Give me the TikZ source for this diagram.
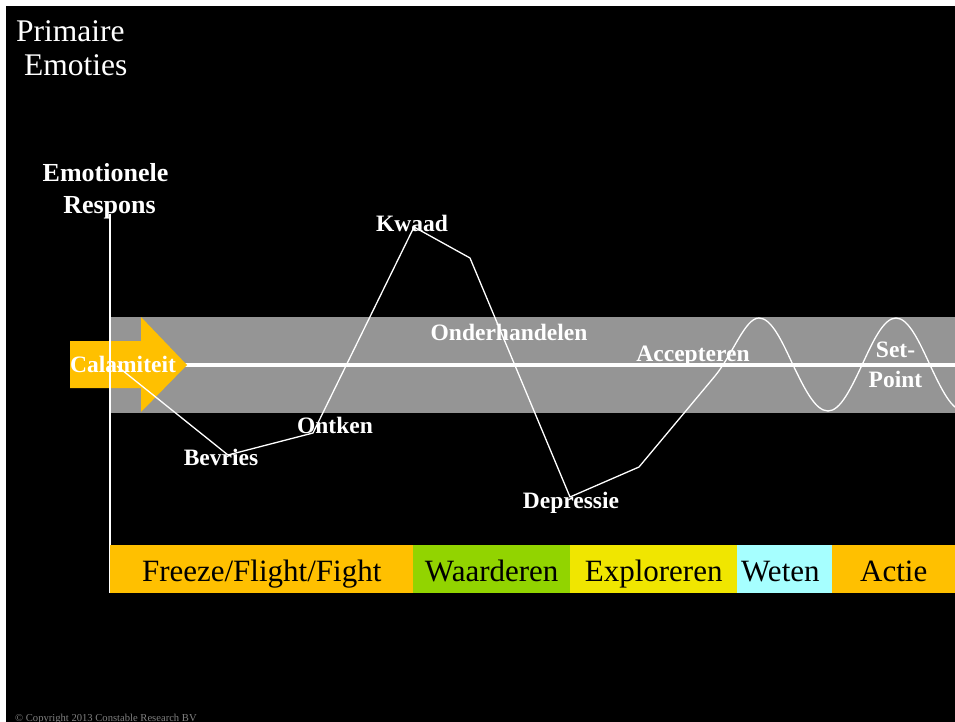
\documentclass[tikz,border=0pt]{standalone}
\usepackage{fontspec}
\setmainfont{Liberation Serif}
\definecolor{orgC}{RGB}{255,192,0}
\definecolor{grnC}{RGB}{146,212,0}
\definecolor{ylwC}{RGB}{240,230,0}
\definecolor{cynC}{RGB}{166,255,255}
\definecolor{bandC}{RGB}{149,149,149}
\definecolor{copyC}{RGB}{128,128,128}
\begin{document}
\begin{tikzpicture}[x=1pt,y=-1pt,
  lbl/.style={text=white,font=\fontsize{23.5}{26}\selectfont\bfseries,inner sep=0pt,anchor=base},
  axlbl/.style={text=white,font=\fontsize{26}{30}\selectfont\bfseries,inner sep=0pt,anchor=base},
  title/.style={text=white,font=\fontsize{31.5}{36}\selectfont,inner sep=0pt,anchor=base west},
  seg/.style={font=\fontsize{31}{36}\selectfont,text=black,inner sep=0pt,anchor=north west,
              text height=36pt,text depth=12pt},
  curve/.style={draw=white,line width=1.3pt,line join=round},
  axis/.style={draw=white,line width=1.2pt}]
\useasboundingbox (0,0) rectangle (955,722);
\fill[white] (0,0) rectangle (955,722);
\fill[black] (6,6) rectangle (955,722);
\begin{scope}
\clip (6,6) rectangle (955,722);
% grey band and set-point line
\fill[bandC] (110,317) rectangle (955,413);
\draw[white,line width=4.5pt] (150,365) -- (960,365);
% calamity arrow
\fill[orgC] (70,341) -- (141,341) -- (141,317) -- (187,365) -- (141,412) -- (141,388) -- (70,388) -- cycle;
% axis
\coordinate (axTop) at (110,214);
\coordinate (axBot) at (110,593);
\draw[axis] (axTop) -- (axBot);
% emotional response curve
\coordinate (p0) at (117,366);
\coordinate (p1) at (228,455);
\coordinate (p2) at (313,433);
\coordinate (p3) at (414,227);
\coordinate (p4) at (470,258);
\coordinate (p5) at (570,497);
\coordinate (p6) at (639,467);
\coordinate (p7) at (715,376);
\coordinate (p8) at (759,318);
\draw[curve] (p0) -- (p1) -- (p2) -- (p3) -- (p4) -- (p5) -- (p6) -- (p7)
  .. controls (733,354) and (745,318) .. (p8)
  cos (793,365) sin (828,411) cos (862,365) sin (896,318) cos (930,365) sin (964,411);
% labels
\node[title] (prim) at (16,42) {Primaire};
\node[title] (emot) at (24,76) {Emoties};
\node[axlbl] (er1) at (105.5,182) {Emotionele};
\node[axlbl] (er2) at (109.5,213) {Respons};
\node[lbl] (cal) at (123,372) {Calamiteit};
\node[lbl] (bev) at (221,465) {Bevries};
\node[lbl] (ont) at (335,433) {Ontken};
\node[lbl] (kwa) at (412,231) {Kwaad};
\node[lbl] (ond) at (509,340) {Onderhandelen};
\node[lbl] (dep) at (571,508) {Depressie};
\node[lbl] (acc) at (693,361) {Accepteren};
\node[lbl] (set1) at (895.5,357) {Set-};
\node[lbl] (set2) at (895.5,387) {Point};
% phase band
\node[seg,fill=orgC,minimum width=303pt] (s1) at (110,545) {Freeze/Flight/Fight};
\node[seg,fill=grnC,minimum width=157pt] (s2) at (413,545) {Waarderen};
\node[seg,fill=ylwC,minimum width=167pt] (s3) at (570,545) {Exploreren};
\node[seg,fill=cynC,minimum width=95pt,text width=95pt,align=left] (s4) at (737,545) {\hspace*{4pt}Weten};
\node[seg,fill=orgC,minimum width=123pt] (s5) at (832,545) {Actie};
% copyright
\node[text=copyC,font=\fontsize{10.6}{12}\selectfont,inner sep=0pt,anchor=base west] (copy) at (15,721) {© Copyright 2013 Constable Research BV};
\end{scope}
\end{tikzpicture}
\end{document}
